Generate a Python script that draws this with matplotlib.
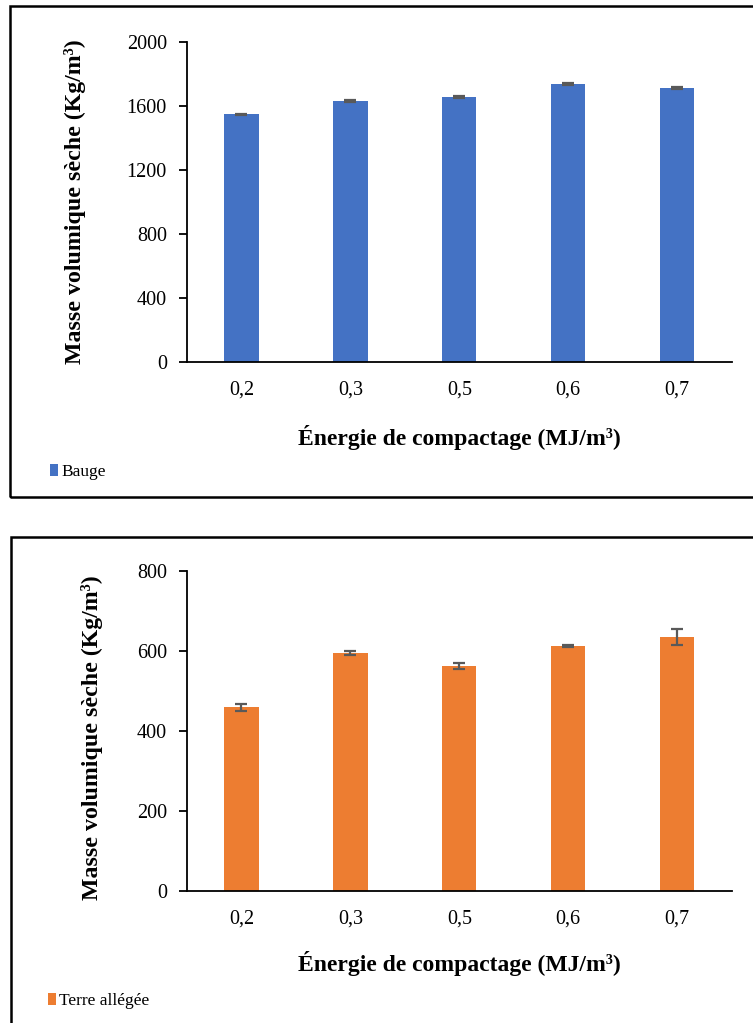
import matplotlib
matplotlib.use("Agg")
import matplotlib.pyplot as plt
from matplotlib.patches import Rectangle
import numpy as np

categories = ["0,2", "0,3", "0,5", "0,6", "0,7"]
bauge_values = [1548, 1631, 1656, 1738, 1714]
bauge_errors = [5, 4, 5, 4, 5]
terre_values = [459, 594, 562, 612, 636]
terre_errors = [8, 5, 7, 2, 20]
ylabel = "Masse volumique sèche (Kg/m³)"
xlabel = "Énergie de compactage (MJ/m³)"

plt.rcParams['font.family'] = ['Liberation Serif', 'DejaVu Serif']

W, H = 753, 1023
fig = plt.figure(figsize=(W / 100, H / 100), dpi=100)

def fx(px):
    return px / W

def fy(py):
    return 1 - py / H

# frames
fig.add_artist(Rectangle((fx(10), fy(497)), fx(760 - 10), fy(6) - fy(497),
                         transform=fig.transFigure, fill=False, lw=1.8, ec='black'))
fig.add_artist(Rectangle((fx(11), fy(1040)), fx(760 - 11), fy(537) - fy(1040),
                         transform=fig.transFigure, fill=False, lw=1.8, ec='black'))

def panel(top_px, bot_px, values, errors, color, ymax, step, label, ylab_x, ylab_y,
          xlab_y, leg_x, leg_y):
    ax = fig.add_axes([fx(187), fy(bot_px), fx(731.5) - fx(187), fy(top_px) - fy(bot_px)])
    x = np.arange(len(categories))
    ax.bar(x, values, width=0.315, color=color, label=label, zorder=2)
    ax.errorbar(x, values, yerr=errors, fmt='none', ecolor='#595959',
                elinewidth=1.6, capsize=4.5, capthick=1.6, zorder=3)
    ax.set_xlim(-0.5, len(categories) - 0.5)
    ax.set_ylim(0, ymax)
    ax.set_yticks(np.arange(0, ymax + 1, step))
    ax.set_xticks(x)
    ax.set_xticklabels(categories)
    for s in ['top', 'right']:
        ax.spines[s].set_visible(False)
    for s in ['left', 'bottom']:
        ax.spines[s].set_linewidth(1.3)
        ax.spines[s].set_color('black')
    ax.tick_params(axis='y', length=6, width=1.3, pad=8.5, labelsize=14.5)
    ax.tick_params(axis='x', length=0, pad=13.5, labelsize=14.5)
    ax.set_ylabel(ylabel, fontsize=17.2, fontweight='bold')
    ax.yaxis.set_label_coords(ylab_x, ylab_y)
    ax.yaxis.label.set_va('center')
    ax.set_xlabel(xlabel, fontsize=17, fontweight='bold')
    ax.xaxis.set_label_coords(0.5, xlab_y)
    ax.xaxis.label.set_va('center')
    ax.legend(loc='center left', bbox_to_anchor=(fx(leg_x), fy(leg_y)),
              bbox_transform=fig.transFigure, frameon=False, fontsize=12.5,
              handlelength=0.45, handleheight=0.65, handletextpad=0.2,
              borderpad=0, borderaxespad=0)
    return ax

panel(42, 362, bauge_values, bauge_errors, '#4472C4', 2000, 400, 'Bauge',
      -0.206, 0.5, (362 - 437) / 320, 50, 472)
panel(571, 891, terre_values, terre_errors, '#ED7D31', 800, 200, 'Terre allégée',
      -0.174, 0.478, (891 - 964) / 320, 48, 1001)

fig.savefig("out.png", dpi=100)
